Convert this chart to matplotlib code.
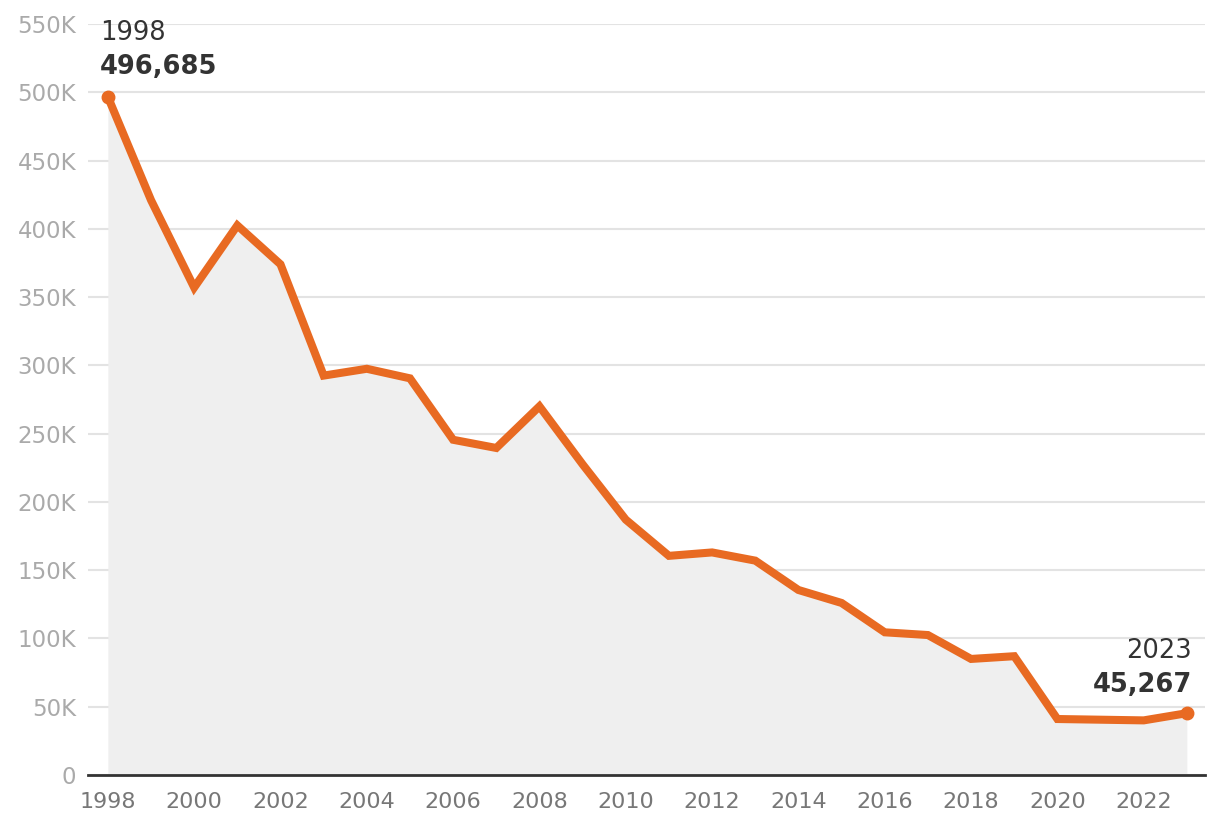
import matplotlib
matplotlib.use("Agg")
import matplotlib.pyplot as plt
from matplotlib.ticker import FuncFormatter

years = list(range(1998, 2024))
values = [496685, 421000, 357000, 402500, 374000, 292500, 297500, 290500,
          245500, 239500, 270000, 227500, 187000, 160500, 163000, 157000,
          135500, 126000, 104500, 102500, 85000, 87000, 41000, 40500,
          40000, 45267]
xticks = list(range(1998, 2023, 2))
yticks = list(range(0, 550001, 50000))

plt.rcParams['font.family'] = ['DejaVu Sans']

fig = plt.figure(figsize=(12.2, 8.26), dpi=100)
ax = fig.add_axes([88/1220, 1-775/826, (1205-88)/1220, (775-24)/826])

line_color = '#E86A22'
ax.fill_between(years, values, 0, color='#efefef', lw=0, zorder=1)
ax.plot(years, values, color=line_color, lw=5.8, solid_joinstyle='miter', zorder=3)
ax.plot([years[0], years[-1]], [values[0], values[-1]], 'o', color=line_color,
        ms=9, zorder=4)

ax.set_xlim(1997.54, 2023.42)
ax.set_ylim(0, 550000)
ax.set_yticks(yticks)
ax.set_xticks(xticks)
ax.yaxis.set_major_formatter(FuncFormatter(lambda v, p: '0' if v == 0 else f'{int(v/1000)}K'))
ax.grid(axis='y', color='#e3e3e3', lw=1.5, zorder=0)
ax.set_axisbelow(True)
for s in ['top', 'right', 'left']:
    ax.spines[s].set_visible(False)
ax.spines['bottom'].set_color('#333333')
ax.spines['bottom'].set_linewidth(2)
ax.spines['bottom'].set_zorder(5)
ax.tick_params(axis='y', length=0, pad=8.5, labelsize=16.5, labelcolor='#aaaaaa')
ax.tick_params(axis='x', length=0, pad=12, labelsize=16, labelcolor='#777777')

ax.annotate(str(years[0]), (years[0], values[0]), xytext=(-8, 57), textcoords='offset pixels',
            ha='left', va='baseline', fontsize=18.5, color='#333333')
ax.annotate(f'{values[0]:,}', (years[0], values[0]), xytext=(-8, 23), textcoords='offset pixels',
            ha='left', va='baseline', fontsize=18.5, fontweight='bold', color='#333333')
ax.annotate(str(years[-1]), (years[-1], values[-1]), xytext=(5, 55), textcoords='offset pixels',
            ha='right', va='baseline', fontsize=18.5, color='#333333')
ax.annotate(f'{values[-1]:,}', (years[-1], values[-1]), xytext=(5, 21), textcoords='offset pixels',
            ha='right', va='baseline', fontsize=18.5, fontweight='bold', color='#333333')

fig.savefig('out.png', dpi=100)
